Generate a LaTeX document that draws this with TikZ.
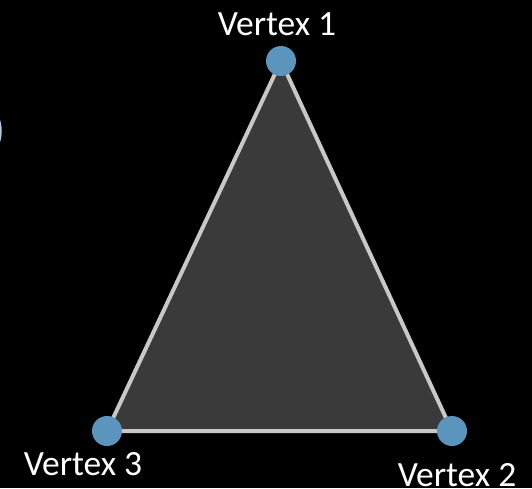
\documentclass[tikz,border=0pt]{standalone}
\usepackage{fontspec}
\setmainfont{Carlito}
\definecolor{vblue}{HTML}{5B95BD}
\definecolor{tri}{HTML}{3A3A3A}
\definecolor{edge}{HTML}{C8C8C8}
\begin{document}
\begin{tikzpicture}[x=1pt,y=-1pt,
  vdot/.style={circle,fill=vblue,minimum size=30pt,inner sep=0pt},
  vlabel/.style={text=white,font=\fontsize{35.5}{40}\selectfont,anchor=base,inner sep=0pt}]
\fill[black] (0,0) rectangle (532,488);
\useasboundingbox (0,0) rectangle (532,488);
\begin{scope}
\clip (0,0) rectangle (532,488);
\draw[color=vblue!50!white,line width=1.5pt] (-36,131) circle (37);
\end{scope}
\coordinate (p1) at (281,61);
\coordinate (p2) at (452,431);
\coordinate (p3) at (107,431);
\draw[fill=tri,draw=edge,line width=4pt,line join=round] (p1) -- (p2) -- (p3) -- cycle;
\node[vdot] (v1) at (p1) {};
\node[vdot] (v2) at (p2) {};
\node[vdot] (v3) at (p3) {};
\node[vlabel] (l1) at (277,35) {Vertex 1};
\node[vlabel] (l2) at (457,486) {Vertex 2};
\node[vlabel] (l3) at (83,475) {Vertex 3};
\end{tikzpicture}
\end{document}
